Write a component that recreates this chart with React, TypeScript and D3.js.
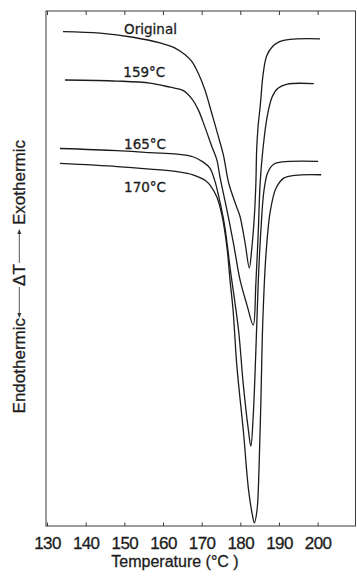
import React from "react";
import * as d3 from "d3";

// DTA traces: [temperature °C, ΔT signal (arbitrary units, 0 = bottom of frame, 100 = top)]
const originalTrace: [number, number][] = [
  [134.0, 96.0], [143.6, 95.7], [152.1, 94.9], [159.1, 93.8], [163.0, 92.8],
  [165.6, 91.5], [167.3, 90.2], [169.0, 87.9], [170.7, 84.7], [172.5, 80.1],
  [174.2, 75.6], [175.5, 72.0], [176.9, 66.5], [178.9, 62.0], [179.8, 60.1],
  [181.1, 55.0], [182.2, 50.1], [182.8, 53.6], [183.5, 60.1], [183.9, 66.6],
  [184.1, 73.0], [184.5, 77.9], [185.0, 81.4], [185.8, 87.9], [186.7, 91.3],
  [188.1, 93.0], [189.9, 94.0], [192.7, 94.5], [200.5, 94.6],
];

const annealed159Trace: [number, number][] = [
  [134.5, 86.6], [148.0, 86.4], [156.5, 86.0], [161.7, 85.2], [165.0, 84.6],
  [167.3, 83.0], [169.0, 80.8], [170.7, 77.5], [172.5, 73.7], [173.8, 71.1],
  [174.6, 67.8], [176.4, 61.4], [178.1, 54.9], [179.8, 47.8], [181.6, 42.9],
  [183.2, 39.0], [183.9, 47.2], [184.5, 56.9], [185.0, 66.6], [185.7, 73.0],
  [186.8, 79.4], [188.1, 83.3], [189.6, 85.0], [192.0, 85.8], [198.9, 85.9],
];

const annealed165Trace: [number, number][] = [
  [133.2, 73.3], [148.0, 72.9], [156.5, 72.5], [163.5, 72.2], [167.6, 71.7],
  [170.2, 70.7], [172.0, 69.5], [173.2, 67.2], [174.2, 64.3], [175.8, 58.4],
  [177.3, 49.7], [179.4, 38.1], [180.6, 27.8], [181.9, 19.0], [182.6, 15.5],
  [183.2, 21.2], [183.9, 34.2], [184.5, 47.2], [185.2, 57.5], [186.0, 65.2],
  [187.0, 68.7], [188.6, 70.3], [190.7, 70.7], [200.0, 70.8],
];

const annealed170Trace: [number, number][] = [
  [133.2, 70.4], [148.0, 69.8], [156.5, 69.3], [163.5, 68.8], [167.6, 68.2],
  [171.0, 67.0], [172.3, 65.9], [173.8, 63.9], [175.1, 60.4], [176.4, 54.2],
  [177.2, 47.8], [178.0, 41.9], [179.0, 30.9], [180.7, 18.1], [182.0, 7.0],
  [183.0, 2.1], [183.5, 0.6], [184.2, 3.1], [184.7, 10.9], [185.2, 24.5],
  [185.7, 40.0], [186.5, 52.6], [187.6, 61.0], [189.1, 65.6], [191.2, 67.6],
  [194.0, 68.1], [200.8, 68.2],
];

const traces = [originalTrace, annealed159Trace, annealed165Trace, annealed170Trace];

// Curve labels and where each sits (temperature, signal of its baseline)
const traceLabels = ["Original", "159°C", "165°C", "170°C"];
const labelTemps = [149.8, 149.6, 149.8, 149.8];
const labelSignals = [95.5, 87.1, 73.2, 64.9];

const xTicks = [130, 140, 150, 160, 170, 180, 190, 200];

const W = 357;
const H = 576;
const LEFT = 46;
const RIGHT = 355.5;
const TOP = 11;
const BOTTOM = 526;

export default function App() {
  const x = d3.scaleLinear().domain([129.6, 209.8]).range([LEFT, 356]);
  const y = d3.scaleLinear().domain([0, 100]).range([BOTTOM, TOP]);

  const line = d3
    .line<[number, number]>()
    .x((d) => x(d[0]))
    .y((d) => y(d[1]))
    .curve(d3.curveCatmullRom.alpha(0.5));

  const ink = "#1c1c1c";
  const axisFont = "'Liberation Sans', Arial, sans-serif";
  const labelFont = "'DejaVu Sans', sans-serif";
  const textStroke = { stroke: ink, strokeWidth: 0.3 };

  // rotated y title: local x runs upward along the text, local y to the right
  const arrowY = -5.7;

  return (
    <svg
      width={W}
      height={H}
      viewBox={`0 0 ${W} ${H}`}
      style={{ position: "absolute", left: 0, top: 0, display: "block", background: "#fff" }}
    >
      <rect x={0} y={0} width={W} height={H} fill="#fff" />

      {/* frame */}
      <rect
        x={LEFT}
        y={TOP}
        width={RIGHT - LEFT}
        height={BOTTOM - TOP}
        fill="none"
        stroke="#3a3a3a"
        strokeWidth={1}
      />

      {/* inward ticks on top and bottom edges */}
      {xTicks.map((t) => (
        <g key={t}>
          <line x1={x(t)} x2={x(t)} y1={TOP} y2={TOP + 4} stroke="#3a3a3a" strokeWidth={1} />
          <line x1={x(t)} x2={x(t)} y1={BOTTOM} y2={BOTTOM - 3.5} stroke="#3a3a3a" strokeWidth={1} />
          <text
            x={x(t)}
            y={549}
            textAnchor="middle"
            fontFamily={axisFont}
            fontSize={17}
            fill={ink}
            letterSpacing={-0.6}
            {...textStroke}
          >
            {t}
          </text>
        </g>
      ))}

      <text
        x={175}
        y={567}
        textAnchor="middle"
        fontFamily={axisFont}
        fontSize={16}
        fill={ink}
        {...textStroke}
      >
        Temperature (°C )
      </text>

      {/* y axis title */}
      <g transform="translate(25,276) rotate(-90)" fill={ink}>
        <text x={-42} y={0} textAnchor="end" fontFamily={axisFont} fontSize={17} {...textStroke}>
          Endothermic
        </text>
        <line x1={-39} x2={-11} y1={arrowY} y2={arrowY} stroke="#444" strokeWidth={0.9} />
        <path d={`M${-42},${arrowY} L${-37},${arrowY - 2} L${-37},${arrowY + 2} Z`} fill="#333" />
        <text x={1} y={0} textAnchor="middle" fontFamily={axisFont} fontSize={17} {...textStroke}>
          ΔT
        </text>
        <line x1={13} x2={44} y1={arrowY} y2={arrowY} stroke="#444" strokeWidth={0.9} />
        <path d={`M${47},${arrowY} L${42},${arrowY - 2} L${42},${arrowY + 2} Z`} fill="#333" />
        <text x={51} y={0} textAnchor="start" fontFamily={axisFont} fontSize={17} {...textStroke}>
          Exothermic
        </text>
      </g>

      {/* traces */}
      {traces.map((tr, i) => (
        <path key={i} d={line(tr) ?? ""} fill="none" stroke={ink} strokeWidth={1.3} />
      ))}

      {traceLabels.map((lab, i) => (
        <text
          key={lab}
          x={x(labelTemps[i])}
          y={y(labelSignals[i])}
          fontFamily={labelFont}
          fontSize={13.5}
          fill={ink}
          {...textStroke}
        >
          {lab}
        </text>
      ))}
    </svg>
  );
}
